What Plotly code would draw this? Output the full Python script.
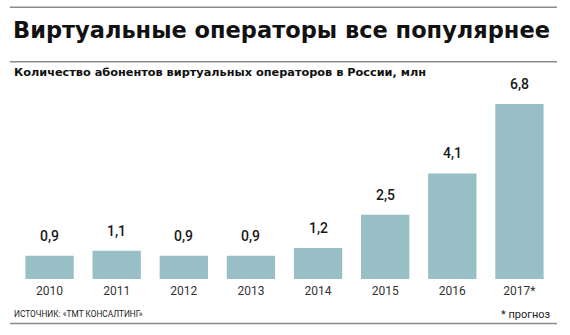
import plotly.graph_objects as go

years = ["2010", "2011", "2012", "2013", "2014", "2015", "2016", "2017*"]
values = [0.9, 1.1, 0.9, 0.9, 1.2, 2.5, 4.1, 6.8]
labels = ["0,9", "1,1", "0,9", "0,9", "1,2", "2,5", "4,1", "6,8"]

title = "Виртуальные операторы все популярнее"
subtitle = "Количество абонентов виртуальных операторов в России, млн"
source = "ИСТОЧНИК: «ТМТ КОНСАЛТИНГ»"
note = "* прогноз"

W, H = 570, 335
ML, MR, MT, MB = 16, 17, 86, 56
pw, ph = W - ML - MR, H - MT - MB

def px(x):
    return (x - ML) / pw

def py(y):
    return (H - MB - y) / ph

bar_color = "#97bfc5"
text_color = "#1a1a1a"
line_color = "#8a8a8a"

fig = go.Figure()
fig.add_trace(go.Bar(
    x=years, y=values, marker=dict(color=bar_color, line=dict(width=0)),
    hoverinfo="skip",
))

for i, (v, lb) in enumerate(zip(values, labels)):
    fig.add_annotation(x=i, y=v, text=lb, showarrow=False, yanchor="bottom",
                       yshift=10, font=dict(family="Roboto", size=14, color=text_color, weight=500))

fig.add_annotation(xref="paper", yref="paper", x=px(11), y=py(30), text=title,
                   showarrow=False, xanchor="left", yanchor="middle",
                   font=dict(family="DejaVu Sans", size=22.5, color="#111111", weight="bold"))
fig.add_annotation(xref="paper", yref="paper", x=px(12), y=py(72), text=subtitle,
                   showarrow=False, xanchor="left", yanchor="middle",
                   font=dict(family="DejaVu Sans", size=11.3, color="#111111", weight="bold"))
fig.add_annotation(xref="paper", yref="paper", x=px(12), y=py(314), text=source,
                   showarrow=False, xanchor="left", yanchor="middle",
                   font=dict(family="Roboto", size=8.3, color="#222222"))
fig.add_annotation(xref="paper", yref="paper", x=px(553), y=py(314), text=note,
                   showarrow=False, xanchor="right", yanchor="middle",
                   font=dict(family="Roboto", size=11, color="#222222"))

for yl in (7.3, 61.7, 323.5):
    fig.add_shape(type="line", xref="paper", yref="paper",
                  x0=px(10), x1=px(557), y0=py(yl), y1=py(yl),
                  line=dict(color=line_color, width=1.6))

fig.update_layout(
    width=W, height=H, margin=dict(l=ML, r=MR, t=MT, b=MB),
    paper_bgcolor="white", plot_bgcolor="white",
    bargap=0.28, showlegend=False,
    xaxis=dict(type="category", range=[-0.5, 7.5], showgrid=False, showline=False,
               zeroline=False, ticks="",
               tickfont=dict(family="Roboto", size=12, color="#333333"),
               ticklabelstandoff=3),
    yaxis=dict(range=[0, 7.5], visible=False),
)

fig.write_html("out.html")
